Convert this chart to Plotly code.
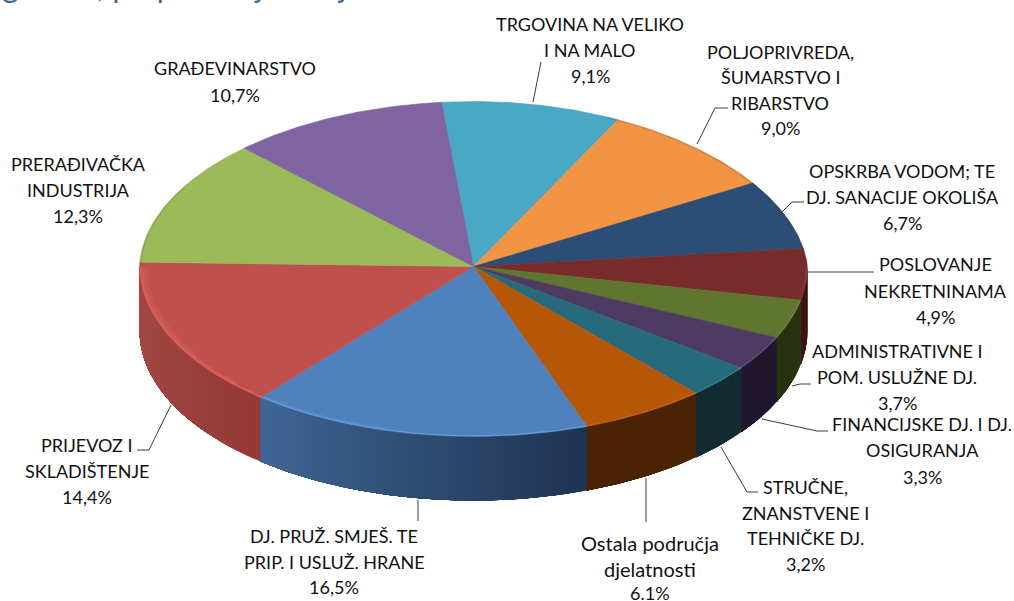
import numpy as np
import plotly.graph_objects as go

# ---------- data (clockwise from the top of the pie) ----------
categories = ["TRGOVINA NA VELIKO I NA MALO", "POLJOPRIVREDA, ŠUMARSTVO I RIBARSTVO",
              "OPSKRBA VODOM; TE DJ. SANACIJE OKOLIŠA", "POSLOVANJE NEKRETNINAMA",
              "ADMINISTRATIVNE I POM. USLUŽNE DJ.", "FINANCIJSKE DJ. I DJ. OSIGURANJA",
              "STRUČNE, ZNANSTVENE I TEHNIČKE DJ.", "Ostala područja djelatnosti",
              "DJ. PRUŽ. SMJEŠ. TE PRIP. I USLUŽ. HRANE", "PRIJEVOZ I SKLADIŠTENJE",
              "PRERAĐIVAČKA INDUSTRIJA", "GRAĐEVINARSTVO"]
values = [9.1, 9.0, 6.7, 4.9, 3.7, 3.3, 3.2, 6.1, 16.5, 14.4, 12.3, 10.7]
label_lines = [
    ["TRGOVINA NA VELIKO", "I NA MALO", "9,1%"],
    ["POLJOPRIVREDA,", "ŠUMARSTVO I", "RIBARSTVO", "9,0%"],
    ["OPSKRBA VODOM; TE", "DJ. SANACIJE OKOLIŠA", "6,7%"],
    ["POSLOVANJE", "NEKRETNINAMA", "4,9%"],
    ["ADMINISTRATIVNE I", "POM. USLUŽNE DJ.", "3,7%"],
    ["FINANCIJSKE DJ. I DJ.", "OSIGURANJA", "3,3%"],
    ["STRUČNE,", "ZNANSTVENE I", "TEHNIČKE DJ.", "3,2%"],
    ["Ostala područja", "djelatnosti", "6.1%"],
    ["DJ. PRUŽ. SMJEŠ. TE", "PRIP. I USLUŽ. HRANE", "16,5%"],
    ["PRIJEVOZ I", "SKLADIŠTENJE", "14,4%"],
    ["PRERAĐIVAČKA", "INDUSTRIJA", "12,3%"],
    ["GRAĐEVINARSTVO", "10,7%"],
]
title_text = "godine, po područjima djelatnosti"

# ---------- styling ----------
top_colors = ["#4aa8c4", "#f29443", "#2c4d75", "#772c2a", "#5f7530", "#4d3b62",
              "#276a7c", "#b65708", "#4f81bd", "#c0504d", "#9bbb59", "#8064a2"]
wall_from = ["#000000", "#000000", "#000000", "#3d1614", "#2a3310", "#20162e",
             "#122c33", "#4a2302", "#1f3350", "#953a38", "#000000", "#000000"]
wall_to = ["#000000", "#000000", "#000000", "#3d1614", "#28310f", "#20162e",
           "#122c33", "#4a2302", "#3f6796", "#a44b48", "#000000", "#000000"]
label_x = [590, 780, 902, 935, 897, 922, 805, 650, 334, 87, 78, 235]
label_y = [[24, 50, 76], [52, 77, 103, 128], [171, 197, 223], [264, 291, 317],
           [351, 377, 403], [424, 450, 477], [487, 513, 538, 564], [543, 569, 593],
           [536, 562, 587], [445, 471, 497], [164, 190, 216], [68, 95]]
leaders = [
    ([533, 541], [102, 62]),
    ([697, 715, 728], [144, 108, 108]),
    ([782, 792, 804], [212, 202, 202]),
    ([807, 874], [272, 272]),
    ([792, 800, 811], [386, 384, 384]),
    ([762, 817, 828], [419, 431, 431]),
    ([721, 747, 758], [447, 492, 492]),
    ([646, 646], [478, 522]),
    ([418, 418], [500, 521]),
    ([171, 149, 137], [405, 450, 450]),
]
CX, CY, RX, RY_FRONT, RY_BACK, DEPTH = 473.5, 266.5, 334.0, 170.0, 165.0, 64.0
NARROW_RIGHT, NARROW_LEFT = 0.06, 0.02   # the far side is foreshortened
START = -5.6
LABEL_FONT = "Lato"
LABEL_SIZE = 18
LOWER_SIZE = 20  # mixed-case label


def hex_rgb(h):
    return np.array([int(h[i:i + 2], 16) for i in (1, 3, 5)], dtype=float)


def px(a, frac=1.0):
    r = np.radians(a)
    s, c = np.sin(r), np.cos(r)
    back = np.clip(c, 0, None)
    xf = 1 - np.where(s > 0, NARROW_RIGHT, NARROW_LEFT) * back
    ry = np.where(c > 0, RY_BACK, RY_FRONT)
    return CX + RX * frac * s * xf, CY - ry * frac * c


fig = go.Figure()
edges = START + np.cumsum([0] + values) * 360.0 / sum(values)


def poly(x, y, color, lw=0.6):
    fig.add_trace(go.Scatter(x=x, y=y, mode="lines", fill="toself", fillcolor=color,
                             line=dict(color=color, width=lw), hoverinfo="skip", showlegend=False))


# side walls (only the front half is visible): painted as overlapping
# strips so the gradient has no seams
for i in range(len(values)):
    a0, a1 = max(edges[i], 90), min(edges[i + 1], 270)
    if a1 <= a0:
        continue
    n = max(int((a1 - a0) / 1.0), 1)
    c0, c1 = hex_rgb(wall_from[i]), hex_rgb(wall_to[i])
    grid = np.linspace(a0, a1, n + 1)
    for k in range(n):
        aa = np.linspace(grid[k], a1, 40)
        x, y = px(aa)
        c = c0 + (c1 - c0) * (k + 0.5) / n
        poly(np.r_[x, x[::-1], x[0]], np.r_[y, y[::-1] + DEPTH, y[0]],
             "rgb(%d,%d,%d)" % tuple(c), lw=0)

# top face
for i in range(len(values)):
    aa = np.linspace(edges[i], edges[i + 1], 60)
    x, y = px(aa)
    poly(np.r_[CX, x, CX], np.r_[CY, y, CY], top_colors[i])

# bevel highlight along the front rim
rims = [
    (219.4, 270, 0.996, "rgba(240,110,100,0.50)", 2),
    (226, 270, 0.989, "rgba(240,110,100,0.28)", 2.5),
    (238, 270, 0.980, "rgba(240,110,100,0.14)", 3),
    (160, 219.4, 0.996, "rgba(130,180,240,0.45)", 1.4),
    (195, 219.4, 0.989, "rgba(130,180,240,0.18)", 2),
    (90, 160, 0.997, "rgba(255,255,255,0.08)", 1.5),
    (270, 300, 0.997, "rgba(80,60,60,0.15)", 1.5),
    (25, 90, 0.997, "rgba(60,50,60,0.18)", 1.5),
]
for a0, a1, f, col, w in rims:
    x, y = px(np.linspace(a0, a1, 60), f)
    fig.add_trace(go.Scatter(x=x, y=y, mode="lines", line=dict(color=col, width=w),
                             hoverinfo="skip", showlegend=False))

# leader lines
for lx, ly in leaders:
    fig.add_trace(go.Scatter(x=lx, y=ly, mode="lines", line=dict(color="#3a3a3a", width=1),
                             hoverinfo="skip", showlegend=False))

annotations = []
for lines, cx, ys in zip(label_lines, label_x, label_y):
    for s, yy in zip(lines, ys):
        size = LOWER_SIZE if s[1:].islower() or s == "Ostala područja" else LABEL_SIZE
        annotations.append(dict(x=cx, y=yy, text=s, showarrow=False, xanchor="center", yanchor="middle",
                                font=dict(family=LABEL_FONT, size=size, color="#111111")))
annotations.append(dict(x=0, y=0, text=title_text, showarrow=False, xanchor="left", yanchor="bottom",
                        yshift=-6, font=dict(family=LABEL_FONT, size=32, color="#3b6d94")))

fig.update_layout(width=1014, height=601, margin=dict(l=0, r=0, t=0, b=0),
                  paper_bgcolor="white", plot_bgcolor="white", showlegend=False,
                  annotations=annotations,
                  xaxis=dict(range=[0, 1014], visible=False, fixedrange=True),
                  yaxis=dict(range=[601, 0], visible=False, fixedrange=True))
fig.write_html("out.html", config={"displayModeBar": False},
               post_script="document.body.style.margin='0';document.body.style.overflow='hidden';")
